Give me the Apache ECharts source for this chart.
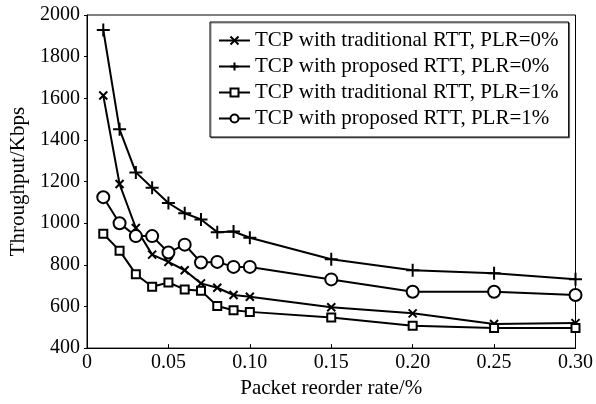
<!DOCTYPE html>
<html>
<head>
<meta charset="utf-8">
<script src="https://cdn.jsdelivr.net/npm/echarts@6/dist/echarts.min.js"></script>
<style>
html,body{margin:0;padding:0;background:#fff;}
#chart{width:596px;height:404px;}
</style>
</head>
<body>
<div id="chart"></div>
<script>
// Packet reorder rate (%)
var reorderRates = [0.01,0.02,0.03,0.04,0.05,0.06,0.07,0.08,0.09,0.10,0.15,0.20,0.25,0.30];
// Throughput (Kbps)
var tradPLR0 = [1613,1188,977,849,814,774,711,690,655,647,596,567,516,520];
var propPLR0 = [1928,1451,1244,1170,1097,1048,1018,957,960,930,827,774,760,731];
var tradPLR1 = [949,868,755,695,715,682,676,602,582,574,547,507,496,496];
var propPLR1 = [1125,1000,938,938,859,897,811,814,790,790,730,671,671,655];
var seriesNames = [
  'TCP with traditional RTT, PLR=0%',
  'TCP with proposed RTT, PLR=0%',
  'TCP with traditional RTT, PLR=1%',
  'TCP with proposed RTT, PLR=1%'
];
var xTickLabels = ['0','0.05','0.10','0.15','0.20','0.25','0.30'];
var xTickValues = [0,0.05,0.10,0.15,0.20,0.25,0.30];
var yTickLabels = ['400','600','800','1000','1200','1400','1600','1800','2000'];

function pairs(vals){ return reorderRates.map(function(x,i){ return [x, vals[i]]; }); }

var FONT = '"Liberation Serif","Times New Roman",serif';
var CROSS = 'path://M0,0L10,10M10,0L0,10';
var PLUS = 'path://M5,0L5,10M0,5L10,5';

function mk(name, vals, symbol, size){
  return {
    name: name, type: 'line', data: pairs(vals),
    symbol: symbol, symbolSize: size, showAllSymbol: true,
    lineStyle: {color: '#000', width: 2},
    itemStyle: {color: '#000', borderColor: '#000', borderWidth: 2},
    emphasis: {disabled: true}
  };
}

var chart = echarts.init(document.getElementById('chart'));
chart.setOption({
  animation: false,
  backgroundColor: '#fff',
  grid: {left: 83, right: 16, top: 15, bottom: 54, show: true, borderColor: '#000', borderWidth: 1},
  legend: {
    orient: 'vertical', left: 210, top: 22,
    itemWidth: 31, itemHeight: 10, itemGap: 5,
    padding: [8, 10, 8, 8],
    borderColor: '#000', borderWidth: 1,
    shadowColor: 'rgba(0,0,0,0.45)', shadowOffsetX: 1, shadowOffsetY: 1, shadowBlur: 0,
    backgroundColor: '#fff',
    textStyle: {fontFamily: FONT, fontSize: 21, color: '#000'},
    data: seriesNames
  },
  xAxis: {
    type: 'value', min: 0, max: 0.3, interval: 0.05,
    name: 'Packet reorder rate/%', nameLocation: 'middle', nameGap: 26,
    nameTextStyle: {fontFamily: FONT, fontSize: 21, color: '#000'},
    axisLine: {lineStyle: {color: '#000', width: 1}},
    axisTick: {inside: true, length: 4, lineStyle: {color: '#000'}},
    axisLabel: {fontFamily: FONT, fontSize: 20, color: '#000', margin: 5,
      formatter: function(v){ var i = xTickValues.findIndex(function(t){return Math.abs(t-v)<1e-9;}); return i>=0 ? xTickLabels[i] : ''; }},
    splitLine: {show: false}
  },
  yAxis: {
    type: 'value', min: 400, max: 2000, interval: 200,
    name: 'Throughput/Kbps', nameLocation: 'middle', nameGap: 58,
    nameTextStyle: {fontFamily: FONT, fontSize: 21, color: '#000'},
    axisLine: {show: true, lineStyle: {color: '#000', width: 1}},
    axisTick: {show: true, inside: false, length: 3, lineStyle: {color: '#000'}},
    axisLabel: {fontFamily: FONT, fontSize: 20, color: '#000', margin: 7,
      formatter: function(v){ var i = Math.round((v-400)/200); return yTickLabels[i] || ''; }},
    splitLine: {show: false}
  },
  series: [
    mk(seriesNames[0], tradPLR0, CROSS, 8),
    mk(seriesNames[1], propPLR0, PLUS, 13),
    mk(seriesNames[2], tradPLR1, 'emptyRect', 8),
    mk(seriesNames[3], propPLR1, 'emptyCircle', 12)
  ]
});
</script>
</body>
</html>
